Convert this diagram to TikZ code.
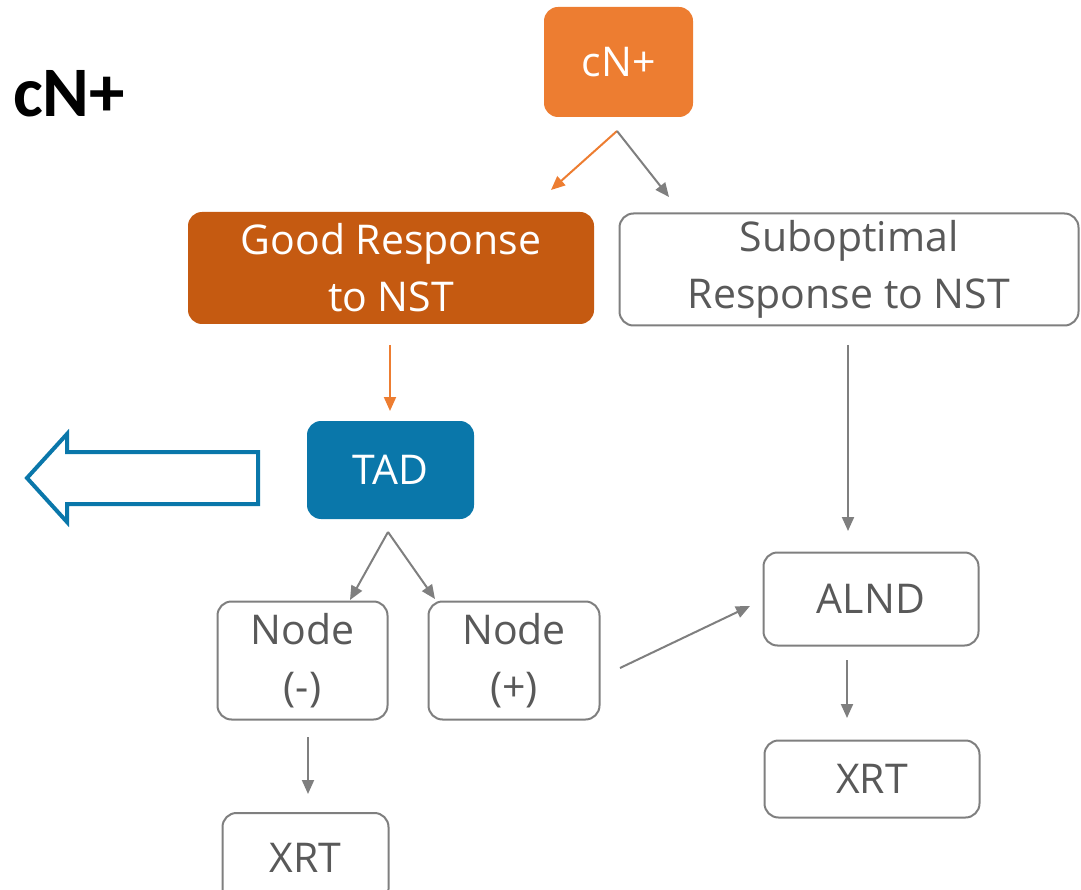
\documentclass[tikz,border=0pt]{standalone}
\usepackage{fontspec}
\setmainfont{Open Sans}
\newfontfamily\labfont{Carlito}
\usetikzlibrary{arrows.meta}
\definecolor{orA}{HTML}{ED7D31}
\definecolor{orB}{HTML}{C55A11}
\definecolor{blueA}{HTML}{0A77AA}
\definecolor{grayL}{HTML}{7F7F7F}
\definecolor{grayT}{HTML}{595959}
\begin{document}
\begin{tikzpicture}[x=1pt,y=-1pt,
  box/.style={rounded corners=14pt,inner sep=0pt,align=center,font=\fontsize{41}{57}\selectfont},
  wbox/.style={box,draw=grayL,line width=2pt,fill=white,text=grayT},
  garr/.style={draw=grayL,line width=2pt,-{Triangle[length=14pt,width=12pt]}},
  oarr/.style={draw=orA,line width=2pt,-{Triangle[length=14pt,width=12pt]}}]
\useasboundingbox (0,0) rectangle (1081,890);
\node[box,fill=orA,text=white,minimum width=149pt,minimum height=110pt] (cn) at (618.5,62) {cN+};
\node[box,fill=orB,text=white,minimum width=406pt,minimum height=112pt] (good) at (391,268) {Good Response\\to NST};
\node[wbox,minimum width=459pt,minimum height=112pt] (sub) at (849,269.5) {Suboptimal\\Response to NST};
\node[box,fill=blueA,text=white,minimum width=167pt,minimum height=98pt] (tad) at (390.5,470) {TAD};
\node[wbox,minimum width=170pt,minimum height=118pt] (nm) at (302.5,660.5) {Node\\(-)};
\node[wbox,minimum width=171pt,minimum height=118pt] (np) at (514,660.5) {Node\\(+)};
\node[wbox,minimum width=215pt,minimum height=93pt] (alnd) at (871,599) {ALND};
\node[wbox,minimum width=215pt,minimum height=77pt] (xr) at (872,779) {XRT};
\node[wbox,minimum width=166pt,minimum height=90pt] (xl) at (305.5,858) {XRT};
\node[font=\labfont\bfseries\fontsize{71}{75}\selectfont,text=black,anchor=base west,inner sep=0pt] (lab) at (13,117) {cN+};
\coordinate (c1) at (617,131);
\coordinate (c2) at (388,532);
\draw[oarr] (c1) -- (551,190);
\draw[garr] (c1) -- (669,197);
\draw[oarr] (390,345) -- (390,411);
\draw[garr] (848,345) -- (848,531);
\draw[garr] (c2) -- (350,600);
\draw[garr] (c2) -- (435,599);
\draw[garr] (308,737) -- (308,794);
\draw[garr] (620,668) -- (750,606);
\draw[garr] (847,660) -- (847,718);
\draw[draw=blueA,line width=4pt,line join=miter] (258,452) -- (67,452) -- (67,434) -- (27,478) -- (67,522) -- (67,504) -- (258,504) -- cycle;
\end{tikzpicture}
\end{document}
